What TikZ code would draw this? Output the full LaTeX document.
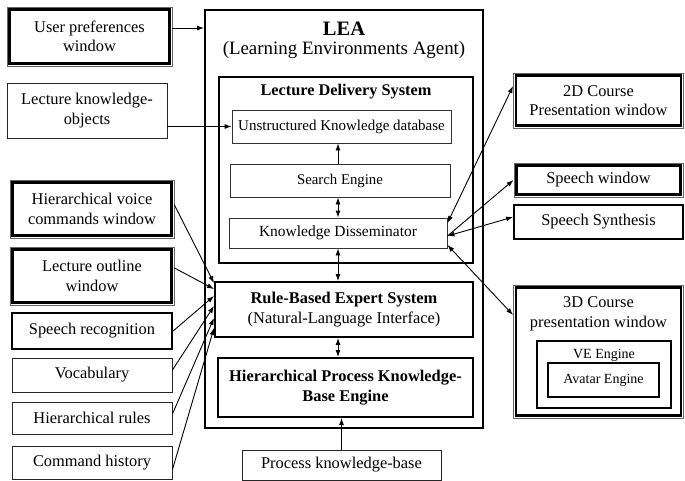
\documentclass[tikz,border=0pt]{standalone}
\usepackage{fontspec}
\setmainfont{Liberation Serif}
\usetikzlibrary{arrows.meta}
\tikzset{
  txt/.style={font=\fontsize{16.4}{19.5}\selectfont, align=center, inner sep=0pt},
  plainbox/.style={draw=black!85, line width=0.9pt, txt},
  innerbox/.style={draw=black!80, line width=0.9pt, font=\fontsize{14.6}{17}\selectfont, align=center, inner sep=0pt},
  boldbox/.style={draw=black, line width=2pt, txt},
  thickbox/.style={draw=black, line width=2.2pt, txt},
  winbox/.style={draw=black!60, line width=0.9pt, txt,
    append after command={\pgfextra{\draw[line width=2.6pt, black]
      ([xshift=2.8pt,yshift=-2.8pt]\tikzlastnode.north west) rectangle
      ([xshift=-2.8pt,yshift=2.8pt]\tikzlastnode.south east);}}},
  arr/.style={line width=0.9pt, -{Latex[length=7pt,width=5pt]}},
  darr/.style={line width=0.9pt, {Latex[length=7pt,width=5pt]}-{Latex[length=7pt,width=5pt]}},
}
\begin{document}
\begin{tikzpicture}[x=1pt,y=-1pt]
\useasboundingbox[fill=white] (0,0) rectangle (685,480);

% left column
\node[winbox, minimum width=165pt, minimum height=59pt] (up) at (89.5,36.5) {User preferences\\window};
\node[plainbox, minimum width=160pt, minimum height=55pt] (lko) at (87,110.5) {Lecture knowledge-\\objects};
\node[winbox, minimum width=164pt, minimum height=58pt] (hvc) at (92,209) {Hierarchical voice\\commands window};
\node[winbox, minimum width=164pt, minimum height=58pt] (low) at (92,276) {Lecture outline\\window};
\node[thickbox, minimum width=160pt, minimum height=36pt] (sr) at (92,331) {Speech recognition};
\node[plainbox, minimum width=160pt, minimum height=34pt] (voc) at (92,375) {Vocabulary};
\node[plainbox, minimum width=160pt, minimum height=32pt] (hr) at (92,418) {Hierarchical rules};
\node[plainbox, minimum width=160pt, minimum height=33pt] (ch) at (92,462.5) {Command history};

% LEA
\node[boldbox, minimum width=278pt, minimum height=418pt] (lea) at (344,219) {};
\node[txt, font=\fontsize{20.5}{24}\selectfont\bfseries] (leat) at (344,29) {LEA};
\node[txt, font=\fontsize{18.9}{22}\selectfont] (leas) at (344,50) {(Learning Environments Agent)};

\node[boldbox, minimum width=254pt, minimum height=186pt] (lds) at (346,170) {};
\node[txt, font=\fontsize{16.3}{19}\selectfont\bfseries] (ldst) at (346,92) {Lecture Delivery System};
\node[innerbox, minimum width=219pt, minimum height=33pt, font=\fontsize{15}{17}\selectfont] (ukd) at (341.5,126.5) {Unstructured Knowledge database};
\node[innerbox, minimum width=220pt, minimum height=33pt, font=\fontsize{14.8}{17}\selectfont] (se) at (340,180.5) {Search Engine};
\node[innerbox, minimum width=218pt, minimum height=30pt, font=\fontsize{15.5}{17}\selectfont] (kd) at (338,233) {Knowledge Disseminator};

\node[boldbox, minimum width=258pt, minimum height=55pt] (rb) at (344,309.5) {\textbf{Rule-Based Expert System}\\(Natural-Language Interface)};
\node[boldbox, minimum width=255pt, minimum height=59pt, font=\fontsize{16.4}{20}\selectfont\bfseries] (hp) at (345.5,387.5) {Hierarchical Process Knowledge-\\Base Engine};
\node[plainbox, minimum width=199pt, minimum height=30pt] (pkb) at (341.5,465) {Process knowledge-base};

% right column
\node[winbox, minimum width=170pt, minimum height=55pt] (d2) at (598.5,100.5) {2D Course\\Presentation window};
\node[winbox, minimum width=169pt, minimum height=34pt] (sw) at (598.5,180) {Speech window};
\node[thickbox, line width=1.8pt, minimum width=169pt, minimum height=34pt] (ss) at (598.5,222) {Speech Synthesis};
\node[winbox, minimum width=170pt, minimum height=133pt] (d3) at (598.5,351.5) {};
\node[txt] (d3t) at (598.5,314) {3D Course\\presentation window};
\node[draw=black, line width=1.5pt, minimum width=134pt, minimum height=67pt] (ve) at (604,374.5) {};
\node[txt, font=\fontsize{14}{16}\selectfont] (vet) at (604,355) {VE Engine};
\node[draw=black, line width=1.3pt, txt, font=\fontsize{14}{16}\selectfont, minimum width=111pt, minimum height=34pt] (av) at (603.5,380) {Avatar Engine};

% connectors
\draw[arr] ([yshift=8.5pt]up.east) -- ([yshift=8.5pt]up.east -| lea.west);
\draw[arr] (lko.east |- ukd.west) -- (ukd.west);
\draw[arr] (se.north -| kd.south) -- (kd.south |- ukd.south);
\draw[darr] (se.south -| kd.south) -- (kd.north);
\draw[darr] (kd.south) -- (kd.south |- rb.north);
\draw[darr] (kd.south |- rb.south) -- (kd.south |- hp.north);
\draw[arr] (pkb.north) -- (pkb.north |- hp.south);

\draw[arr] ([yshift=4pt]hvc.east) -- ([yshift=26.5pt]rb.west);
\draw[arr] ([yshift=8pt]low.east) -- ([yshift=20.5pt]rb.west);
\draw[arr] (sr.east) -- ([yshift=13.5pt]rb.west);
\draw[arr] ([yshift=5pt]voc.east) -- ([yshift=3.5pt]rb.west);
\draw[arr] ([yshift=4pt]hr.east) -- ([yshift=-8.5pt]rb.west);
\draw[arr] ([yshift=-7pt]ch.east) -- ([yshift=-18.5pt]rb.west);

\draw[darr] ([yshift=10pt]kd.east) -- ([yshift=14.5pt]d2.west);
\draw[arr] ([yshift=-3pt]kd.east) -- (sw.west);
\draw[darr] ([yshift=-3pt]kd.east) -- ([yshift=5pt]ss.west);
\draw[darr] ([yshift=-12pt]kd.east) -- ([yshift=36.5pt]d3.west);
\end{tikzpicture}
\end{document}
